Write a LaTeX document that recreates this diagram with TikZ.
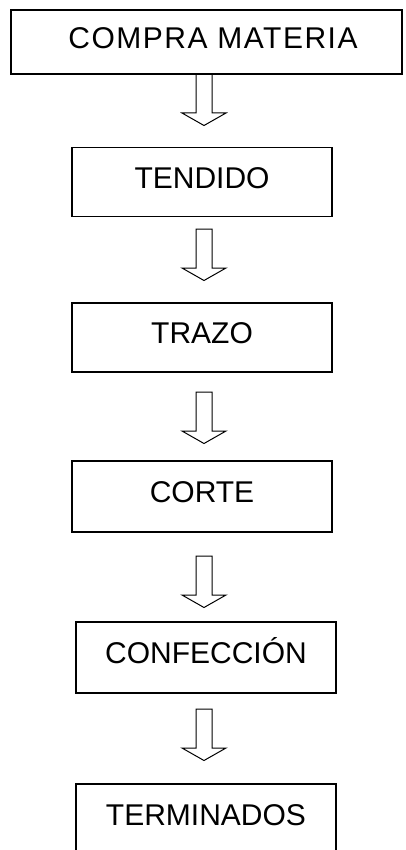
\documentclass[tikz,border=0pt]{standalone}
\usepackage{fontspec}
\setmainfont{Liberation Sans}

\begin{document}
\begin{tikzpicture}
    [x=1pt,y=-1pt,
    process/.style={rectangle,draw=black,line width=1.2pt,
      inner sep=0pt,minimum width=260pt,minimum height=69pt,
      font=\fontsize{30}{36}\selectfont,text height=21.5pt,text depth=9pt},
    flow/.pic={\draw[line width=1pt] (-8,0) -- (8,0) -- (8,39) -- (22,39)
      -- (0,51.5) -- (-22,39) -- (-8,39) -- cycle;}]

    \useasboundingbox (0,0) rectangle (405,850);

    \node[process,minimum width=391pt,minimum height=64pt]
                   (compra materia) at (206.5,42)
      {\hspace*{13pt}\addfontfeature{LetterSpace=5}COMPRA MATERIA};

    \node[process] (tendido)        at (202,182)   {TENDIDO};

    \node[process] (trazo)          at (202,337.5) {TRAZO};

    \node[process,minimum height=71pt]
                   (corte)          at (202,496.5) {CORTE};

    \node[process,minimum height=71pt]
                   (confeccion)     at (206,657.5) {CONFECCIÓN};

    \node[process,minimum height=70pt]
                   (terminados)     at (206,819)   {TERMINADOS};

    \pic at (204,74)  {flow};
    \pic at (204,229) {flow};
    \pic at (204,392) {flow};
    \pic at (204,556) {flow};
    \pic at (204,709) {flow};

  \end{tikzpicture}
\end{document}
